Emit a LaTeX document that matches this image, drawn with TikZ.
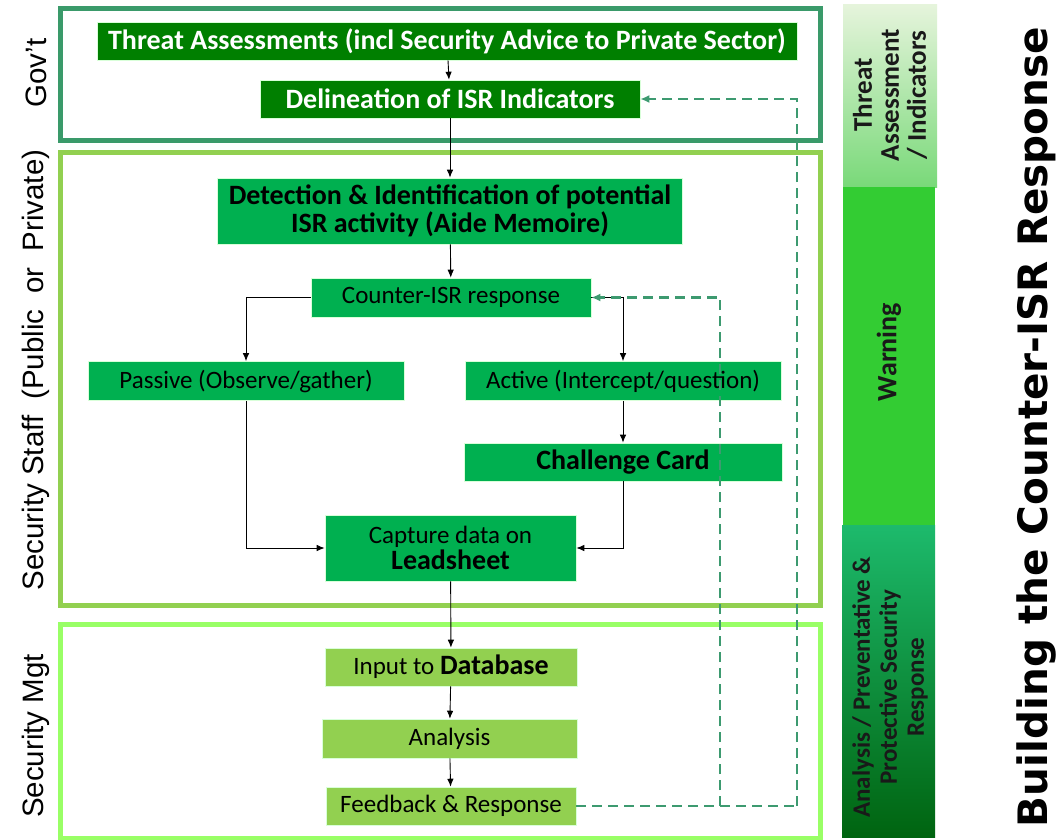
\documentclass[tikz,border=0pt]{standalone}
\usepackage{fontspec}
\usetikzlibrary{arrows.meta}
\newfontfamily\boxfont{Carlito}
\newfontfamily\labfont{Liberation Sans}
\newfontfamily\titlefont{DejaVu Sans}
\definecolor{darkg}{HTML}{007F00}
\definecolor{midg}{HTML}{00B050}
\definecolor{lightg}{HTML}{92D050}
\definecolor{govframe}{HTML}{3A9A6A}
\definecolor{staffframe}{HTML}{92D050}
\definecolor{mgtframe}{HTML}{99FF66}
\definecolor{dashg}{HTML}{3D9A70}
\definecolor{bar1top}{HTML}{E6F4DC}
\definecolor{bar1bot}{HTML}{79D979}
\definecolor{bar2}{HTML}{33CC33}
\definecolor{bar3top}{HTML}{1DBA6C}
\definecolor{bar3bot}{HTML}{006410}
\newcommand\bsize{\fontsize{28}{28}\selectfont}
\newcommand\nsize{\fontsize{25}{27}\selectfont}
\tikzset{
  boxbase/.style={rectangle, inner sep=0pt, align=center, draw=white!85!green, line width=0.6pt,
    font=\boxfont\nsize},
  darkbox/.style={boxbase, fill=darkg, text=white, font=\boxfont\bfseries\bsize},
  midbox/.style={boxbase, fill=midg, text=black},
  lightbox/.style={boxbase, fill=lightg, text=black},
  frame/.style={line width=5pt},
  conn/.style={draw=black, line width=0.9pt, -{Latex[length=8pt,width=6.5pt]}},
  dconn/.style={draw=dashg, line width=2.5pt, dash pattern=on 10pt off 6pt},
  sidelab/.style={rotate=90, font=\labfont\fontsize{29.5}{32}\selectfont, inner sep=0pt},
  bartext/.style={rotate=90, align=center, text=black!90, inner sep=0pt},
}
\begin{document}
\begin{tikzpicture}[x=1pt,y=-1pt]
\useasboundingbox (0,0) rectangle (1059,839);
\fill[white] (0,0) rectangle (1059,839);
% frames
\draw[frame, govframe] (60,8) rectangle (820,140);
\draw[frame, staffframe] (60,152) rectangle (820,605);
\draw[frame, mgtframe] (60,624) rectangle (820,838);
% side bars
\shade[top color=bar1top, bottom color=bar1bot] (843,4) rectangle (937,187);
\fill[bar2] (843,187) rectangle (935,525);
\shade[top color=bar3top, bottom color=bar3bot] (842,525) rectangle (935,837);
\node[bartext, font=\boxfont\bfseries\fontsize{27}{27}\selectfont] (b1) at (890,95) {Threat\\Assessment\\/ Indicators};
\node[bartext, font=\boxfont\bfseries\fontsize{28}{28}\selectfont] (b2) at (889,352) {Warning};
\node[bartext, font=\boxfont\bfseries\fontsize{25}{27}\selectfont] (b3) at (890,687) {Analysis / Preventative \&\\Protective Security\\Response};
% title
\node[rotate=90, font=\titlefont\bfseries\fontsize{40.5}{44}\selectfont, inner sep=0pt] (title) at (1036,427) {Building the Counter-ISR Response};
% side labels
\node[sidelab] (lgov) at (36,73) {Gov’t};
\node[sidelab] (lstaff) at (36,370) {Security Staff\hspace{16pt}(Public\hspace{16pt}or\hspace{16pt}Private)};
\node[sidelab] (lmgt) at (36,736) {Security Mgt};
% boxes
\node[darkbox, minimum width=700, minimum height=38] (ta) at (447,41) {Threat Assessments (incl Security Advice to Private Sector)};
\node[darkbox, minimum width=380, minimum height=38] (del) at (450,99) {Delineation of ISR Indicators};
\node[midbox, minimum width=465, minimum height=66, font=\boxfont\bfseries\fontsize{28}{28}\selectfont] (det) at (450,211) {Detection \& Identification of potential\\ISR activity (Aide Memoire)};
\node[midbox, minimum width=280, minimum height=39] (cisr) at (451,297.5) {Counter-ISR response};
\node[midbox, minimum width=316, minimum height=39] (pas) at (246,381) {Passive (Observe/gather)};
\node[midbox, minimum width=316, minimum height=39] (act) at (623,381) {Active (Intercept/question)};
\node[midbox, minimum width=318, minimum height=38, font=\boxfont\bfseries\bsize] (cc) at (623,462) {Challenge Card};
\node[midbox, minimum width=251, minimum height=66, font=\boxfont\fontsize{25}{26}\selectfont] (cap) at (450.5,548) {Capture data on\\\textbf{\bsize Leadsheet}};
\node[lightbox, minimum width=252, minimum height=38] (idb) at (451,667) {Input to \textbf{\bsize Database}};
\node[lightbox, minimum width=255, minimum height=39] (ana) at (449.5,738.5) {Analysis};
\node[lightbox, minimum width=250, minimum height=38] (fb) at (451,806) {Feedback \& Response};
% connectors
\draw[conn] (ta) -- (del);
\draw[conn] (del) -- (det);
\draw[conn] (det) -- (cisr);
\draw[conn] (cisr.west) -| (pas.north);
\draw[conn] (cisr.east) -| (act.north);
\draw[conn] (act) -- (cc);
\draw[conn] (pas.south) |- (cap.west);
\draw[conn] (cc.south) |- (cap.east);
\draw[conn] (cap) -- (idb);
\draw[conn] (idb) -- (ana);
\draw[conn] (ana) -- (fb);
% dashed feedback
\coordinate (d1) at (797,806);
\coordinate (d2) at (720,806);
\draw[dconn] (fb.east) -- (d1);
\draw[dconn, -{Latex[length=9pt,width=8pt]}] (d1) |- (del.east);
\draw[dconn, -{Latex[length=9pt,width=8pt]}] (d2) |- (cisr.east);
\end{tikzpicture}
\end{document}
